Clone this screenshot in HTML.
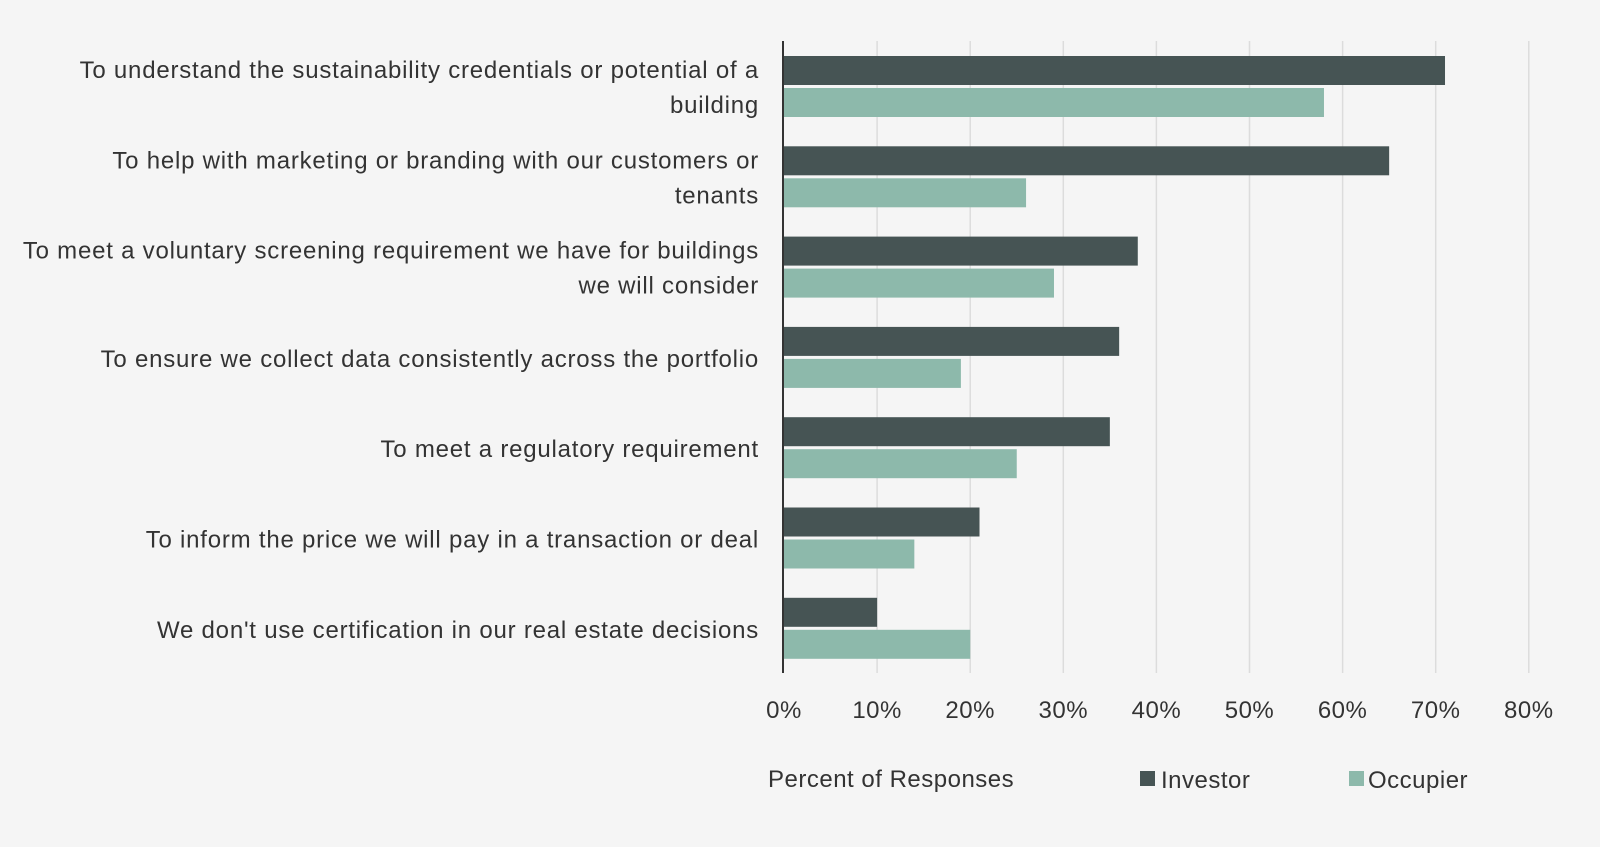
<!DOCTYPE html>
<html><head><meta charset="utf-8"><style>
body{margin:0;background:#f5f5f5;}
svg{display:block;font-family:"Liberation Sans",sans-serif;}
</style></head><body>
<svg id="chart" width="1600" height="847">
<rect width="1600" height="847" fill="#f5f5f5"/>
<g id="grid"></g><g id="bars"></g><g id="labels"></g><g id="ticks"></g>
<line x1="783" y1="41" x2="783" y2="673" stroke="#333" stroke-width="2"/>
<text x="768" y="787" font-size="24" fill="#333" letter-spacing="0.5">Percent of Responses</text>
<g><rect x="1140" y="771" width="15" height="15" fill="#465454"/><text x="1161" y="788" font-size="24" fill="#333" letter-spacing="0.5">Investor</text></g>
<g><rect x="1349" y="771" width="15" height="15" fill="#8db9ab"/><text x="1368" y="788" font-size="24" fill="#333" letter-spacing="0.5">Occupier</text></g>
</svg>
<script>
const categories=[["To understand the sustainability credentials or potential of a","building"],["To help with marketing or branding with our customers or","tenants"],["To meet a voluntary screening requirement we have for buildings","we will consider"],["To ensure we collect data consistently across the portfolio"],["To meet a regulatory requirement"],["To inform the price we will pay in a transaction or deal"],["We don't use certification in our real estate decisions"]];
const investor=[71,65,38,36,35,21,10];
const occupier=[58,26,29,19,25,14,20];
const tickValues=[0,10,20,30,40,50,60,70,80];
const tickLabels=["0%","10%","20%","30%","40%","50%","60%","70%","80%"];
const NS="http://www.w3.org/2000/svg";
const x=v=>784+v*9.31;
const rowY=i=>56+i*90.3;
function mk(tag,attrs,parent){const e=document.createElementNS(NS,tag);for(const k in attrs)e.setAttribute(k,attrs[k]);document.getElementById(parent).appendChild(e);return e;}
tickValues.forEach((t,i)=>{
  if(t>0){const g=mk('line',{x1:x(t),x2:x(t),y1:41,y2:673,stroke:'#dcdcdc','stroke-width':1.5},'grid');
  
  }
  const tx=mk('text',{x:x(t),y:718,'font-size':24,fill:'#333','text-anchor':'middle','letter-spacing':0.5},'ticks');
  tx.textContent=tickLabels[i];
  
  
});
categories.forEach((c,i)=>{
  const y=rowY(i);
  const b1=mk('rect',{x:784,y:y,width:x(investor[i])-784,height:29,fill:'#465454'},'bars');
  
  
  const b2=mk('rect',{x:784,y:y+32,width:x(occupier[i])-784,height:29,fill:'#8db9ab'},'bars');
  
  
  const t=mk('text',{'font-size':24,fill:'#333','text-anchor':'end','letter-spacing':0.78},'labels');
  
  
  if(c.length===2){
    c.forEach((line,j)=>{const s=document.createElementNS(NS,'tspan');s.setAttribute('x',759);s.setAttribute('y',y+22+j*35);s.textContent=line;t.appendChild(s);});
  } else {t.setAttribute('x',759);t.setAttribute('y',y+40);t.textContent=c[0];}
});
</script>
</body></html>
